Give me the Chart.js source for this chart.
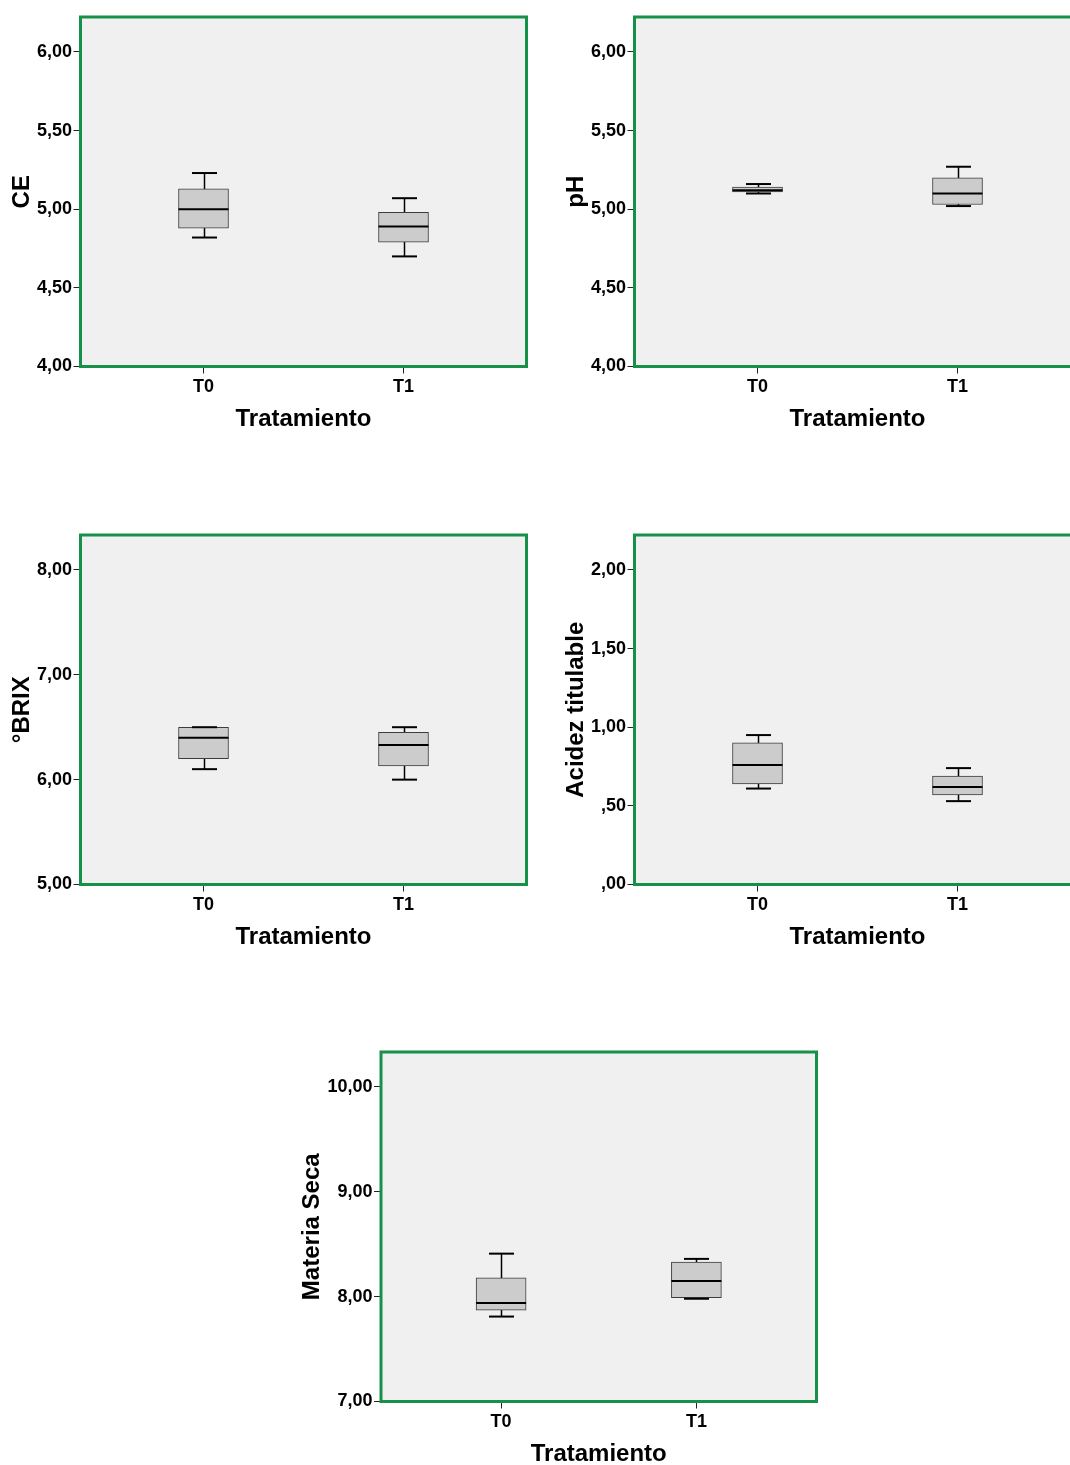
<!DOCTYPE html>
<html lang="es">
<head>
<meta charset="utf-8">
<title>Diagramas de caja por tratamiento</title>
<script src="https://cdn.jsdelivr.net/npm/chart.js@4.4.1/dist/chart.umd.min.js"></script>
<style>
  html, body { margin: 0; padding: 0; background: #fff; }
  body { width: 1070px; height: 1465px; overflow: hidden; position: relative; }
  .panel { position: absolute; width: 540px; height: 440px; }
</style>
</head>
<body>
<div class="panel" style="left:0;top:0"><canvas id="chartCE" width="540" height="440"></canvas></div>
<div class="panel" style="left:554px;top:0"><canvas id="chartPH" width="540" height="440"></canvas></div>
<div class="panel" style="left:0;top:518px"><canvas id="chartBrix" width="540" height="440"></canvas></div>
<div class="panel" style="left:554px;top:518px"><canvas id="chartAcidez" width="540" height="440"></canvas></div>
<div class="panel" style="left:290px;top:1035px"><canvas id="chartMS" width="540" height="440"></canvas></div>

<script>
// Box plot values (whisker low, Q1, median, Q3, whisker high)
const tratamientos = ['T0', 'T1'];

const ceLow = [4.82, 4.70];
const ceQ1 = [4.88, 4.79];
const ceMedian = [5.00, 4.89];
const ceQ3 = [5.13, 4.98];
const ceHigh = [5.23, 5.07];
const ceTicks = [4, 4.5, 5, 5.5, 6];
const ceTickLabels = ['4,00', '4,50', '5,00', '5,50', '6,00'];

const phLow = [5.10, 5.02];
const phQ1 = [5.11, 5.03];
const phMedian = [5.12, 5.10];
const phQ3 = [5.14, 5.20];
const phHigh = [5.16, 5.27];
const phTicks = [4, 4.5, 5, 5.5, 6];
const phTickLabels = ['4,00', '4,50', '5,00', '5,50', '6,00'];

const brixLow = [6.10, 6.00];
const brixQ1 = [6.20, 6.13];
const brixMedian = [6.40, 6.33];
const brixQ3 = [6.50, 6.45];
const brixHigh = [6.50, 6.50];
const brixTicks = [5, 6, 7, 8];
const brixTickLabels = ['5,00', '6,00', '7,00', '8,00'];

const acidezLow = [0.61, 0.53];
const acidezQ1 = [0.64, 0.57];
const acidezMedian = [0.76, 0.62];
const acidezQ3 = [0.90, 0.69];
const acidezHigh = [0.95, 0.74];
const acidezTicks = [0, 0.5, 1, 1.5, 2];
const acidezTickLabels = [',00', ',50', '1,00', '1,50', '2,00'];

const msLow = [7.81, 7.98];
const msQ1 = [7.87, 7.99];
const msMedian = [7.94, 8.15];
const msQ3 = [8.18, 8.33];
const msHigh = [8.41, 8.36];
const msTicks = [7, 8, 9, 10];
const msTickLabels = ['7,00', '8,00', '9,00', '10,00'];

// axis limits (SPSS leaves some room above the top tick)
const ceRange = [4, 6.222];
const phRange = [4, 6.222];
const brixRange = [5, 8.333];
const acidezRange = [0, 2.222];
const msRange = [7, 10.333];
const xRange = [-0.615, 1.615];

const FONT = 'Liberation Sans, Arial, Helvetica, sans-serif';
const GREEN = '#17914a';

// whiskers, medians, plot background and the green frame
const boxPlotExtras = {
  id: 'boxPlotExtras',
  beforeDatasetsDraw(chart, args, opts) {
    const { ctx, chartArea: a, scales: { x, y } } = chart;
    ctx.save();
    ctx.fillStyle = '#f0f0f0';
    ctx.fillRect(a.left, a.top, a.right - a.left, a.bottom - a.top);
    ctx.strokeStyle = '#000';
    ctx.lineWidth = 1.5;
    opts.low.forEach((lo, i) => {
      const px = Math.round(x.getPixelForValue(i)) + 0.5;
      ctx.beginPath();
      ctx.moveTo(px, y.getPixelForValue(lo));
      ctx.lineTo(px, y.getPixelForValue(opts.high[i]));
      ctx.stroke();
    });
    ctx.restore();
  },
  afterDatasetsDraw(chart, args, opts) {
    const { ctx, scales: { x, y } } = chart;
    const bars = chart.getDatasetMeta(0).data;
    ctx.save();
    ctx.strokeStyle = '#000';
    opts.low.forEach((lo, i) => {
      const px = Math.round(x.getPixelForValue(i)) + 0.5;
      const half = bars[i].width / 2;
      const cap = half / 2;
      ctx.lineWidth = 2;
      [lo, opts.high[i]].forEach((v) => {
        const py = y.getPixelForValue(v);
        ctx.beginPath();
        ctx.moveTo(px - cap, py);
        ctx.lineTo(px + cap, py);
        ctx.stroke();
      });
      const my = y.getPixelForValue(opts.median[i]);
      ctx.beginPath();
      ctx.moveTo(bars[i].x - half, my);
      ctx.lineTo(bars[i].x + half, my);
      ctx.stroke();
    });
    ctx.restore();
  },
  afterDraw(chart) {
    const { ctx, chartArea: a } = chart;
    ctx.save();
    ctx.strokeStyle = GREEN;
    ctx.lineWidth = 3;
    ctx.strokeRect(a.left, a.top, a.right - a.left, a.bottom - a.top);
    ctx.restore();
  },
};

function buildBoxChart(canvasId, title, low, q1, median, q3, high, ticks, tickLabels, range, axisWidth, plotWidth) {
  const ctx = document.getElementById(canvasId);
  return new Chart(ctx.getContext('2d'), {
    type: 'bar',
    data: {
      datasets: [
        {
          data: tratamientos.map((t, i) => ({ x: i, y: [q1[i], q3[i]] })),
          backgroundColor: '#cccccc',
          borderColor: '#3c3c3c',
          borderWidth: 1,
          borderSkipped: false,
          barThickness: 50,
        },
      ],
    },
    options: {
      responsive: false,
      animation: false,
      events: [],
      layout: { padding: { top: 17, right: 540 - axisWidth - plotWidth, bottom: 0, left: 0 } },
      plugins: {
        legend: { display: false },
        tooltip: { enabled: false },
        boxPlotExtras: { low, median, high },
      },
      scales: {
        x: {
          type: 'linear',
          offset: false,
          min: xRange[0],
          max: xRange[1],
          afterBuildTicks: (scale) => {
            scale.ticks = tratamientos.map((t, i) => ({ value: i }));
          },
          afterFit: (scale) => {
            scale.height = 73.5;
            scale.paddingLeft = 0;
            scale.paddingRight = 0;
          },
          border: { display: false },
          grid: {
            offset: false,
            drawOnChartArea: false,
            drawTicks: true,
            tickLength: 7,
            color: '#222',
            lineWidth: 1,
          },
          ticks: {
            padding: 3,
            color: '#000',
            font: { family: FONT, size: 18, weight: 'bold' },
            callback: (v) => tratamientos[v],
          },
          title: {
            display: true,
            text: 'Tratamiento',
            color: '#000',
            font: { family: FONT, size: 24, weight: 'bold' },
            padding: { top: 0, bottom: 6.6 },
          },
        },
        y: {
          min: range[0],
          max: range[1],
          afterBuildTicks: (scale) => {
            scale.ticks = ticks.map((v) => ({ value: v }));
          },
          afterFit: (scale) => {
            scale.width = axisWidth;
            scale.paddingTop = 0;
            scale.paddingBottom = 0;
          },
          border: { display: false },
          grid: { drawOnChartArea: false, drawTicks: true, tickLength: 7, color: '#222', lineWidth: 1 },
          ticks: {
            padding: 1.5,
            color: '#000',
            font: { family: FONT, size: 18, weight: 'bold' },
            callback: (v) => {
              const k = ticks.indexOf(v);
              return k >= 0 ? tickLabels[k] : '';
            },
          },
          title: {
            display: true,
            text: title,
            color: '#000',
            font: { family: FONT, size: 24, weight: 'bold' },
            padding: { top: 7.6, bottom: 0 },
          },
        },
      },
    },
    plugins: [boxPlotExtras],
  });
}

document.addEventListener('DOMContentLoaded', () => {
  buildBoxChart('chartCE', 'CE', ceLow, ceQ1, ceMedian, ceQ3, ceHigh, ceTicks, ceTickLabels, ceRange, 80.5, 446);
  buildBoxChart('chartPH', 'pH', phLow, phQ1, phMedian, phQ3, phHigh, phTicks, phTickLabels, phRange, 80.5, 446);
  buildBoxChart('chartBrix', '°BRIX', brixLow, brixQ1, brixMedian, brixQ3, brixHigh, brixTicks, brixTickLabels,
    brixRange, 80.5, 446);
  buildBoxChart('chartAcidez', 'Acidez titulable', acidezLow, acidezQ1, acidezMedian, acidezQ3, acidezHigh,
    acidezTicks, acidezTickLabels, acidezRange, 80.5, 446);
  buildBoxChart('chartMS', 'Materia Seca', msLow, msQ1, msMedian, msQ3, msHigh, msTicks, msTickLabels, msRange,
    91, 435.5);
});
</script>
</body>
</html>
